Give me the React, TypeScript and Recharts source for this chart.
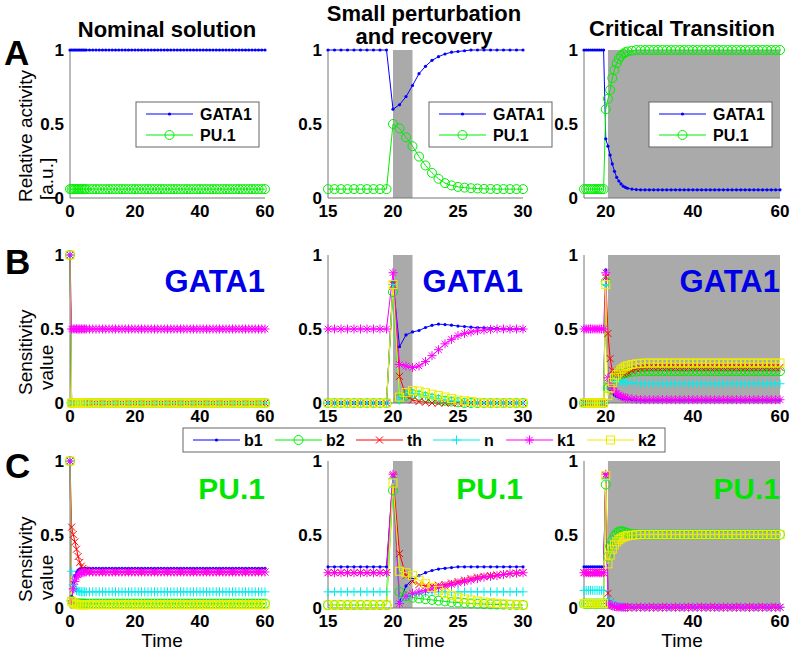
import React from 'react';
import { LineChart, Line, XAxis, YAxis, ReferenceArea } from 'recharts';

const FONT = '"Liberation Sans", Arial, sans-serif';

const BLUE = '#0000ff';
const GREEN = '#00ee00';
const RED = '#ff0000';
const CYAN = '#00eeee';
const MAGENTA = '#ff00ff';
const YELLOW = '#eeee00';
const SHADE = '#aaaaaa';

// time grids (nominal run, perturbation zoom, critical run)
const timeNom = [
  0, 0.5, 1, 1.5, 2, 2.5, 3, 3.5, 4, 4.5, 5,
  6, 7, 8, 9, 10, 11, 12, 13, 14, 15, 16,
  17, 18, 19, 20, 21, 22, 23, 24, 25, 26, 27,
  28, 29, 30, 31, 32, 33, 34, 35, 36, 37, 38,
  39, 40, 41, 42, 43, 44, 45, 46, 47, 48, 49,
  50, 51, 52, 53, 54, 55, 56, 57, 58, 59, 60,
];
const timePert = [
  15, 15.5, 16, 16.5, 17, 17.5, 18, 18.5, 19, 19.5,
  20, 20.5, 21, 21.5, 22, 22.5, 23, 23.5, 24, 24.5, 25,
  25.5, 26, 26.5, 27, 27.5, 28, 28.5, 29, 29.5, 30,
];
const timeCrit = [
  15, 15.5, 16, 16.5, 17, 17.5, 18, 18.5, 19, 19.5,
  20, 20.5, 21, 21.5, 22, 22.5, 23, 23.5, 24, 24.5, 25,
  26, 27, 28, 29, 30, 31, 32, 33, 34, 35, 36, 37,
  38, 39, 40, 41, 42, 43, 44, 45, 46, 47, 48, 49,
  50, 51, 52, 53, 54, 55, 56, 57, 58, 59, 60,
];

// ---- row A: relative activity ----
const nomGata1 = [
  1, 1, 1, 1, 1, 1, 1, 1, 1, 1, 1,
  1, 1, 1, 1, 1, 1, 1, 1, 1, 1, 1,
  1, 1, 1, 1, 1, 1, 1, 1, 1, 1, 1,
  1, 1, 1, 1, 1, 1, 1, 1, 1, 1, 1,
  1, 1, 1, 1, 1, 1, 1, 1, 1, 1, 1,
  1, 1, 1, 1, 1, 1, 1, 1, 1, 1, 1,
];
const nomPu1 = [
  0.06, 0.06, 0.06, 0.06, 0.06, 0.06, 0.06, 0.06, 0.06, 0.06, 0.06,
  0.06, 0.06, 0.06, 0.06, 0.06, 0.06, 0.06, 0.06, 0.06, 0.06, 0.06,
  0.06, 0.06, 0.06, 0.06, 0.06, 0.06, 0.06, 0.06, 0.06, 0.06, 0.06,
  0.06, 0.06, 0.06, 0.06, 0.06, 0.06, 0.06, 0.06, 0.06, 0.06, 0.06,
  0.06, 0.06, 0.06, 0.06, 0.06, 0.06, 0.06, 0.06, 0.06, 0.06, 0.06,
  0.06, 0.06, 0.06, 0.06, 0.06, 0.06, 0.06, 0.06, 0.06, 0.06, 0.06,
];
const pertGata1 = [
  1, 1, 1, 1, 1, 1, 1, 1, 1, 1,
  0.6, 0.63, 0.685, 0.76, 0.84, 0.89, 0.93, 0.955, 0.973, 0.985, 0.99,
  0.995, 1, 1, 1, 1, 1, 1, 1, 1, 1,
];
const pertPu1 = [
  0.06, 0.06, 0.06, 0.06, 0.06, 0.06, 0.06, 0.06, 0.06, 0.06,
  0.5, 0.47, 0.41, 0.35, 0.28, 0.22, 0.17, 0.13, 0.1, 0.085, 0.075,
  0.07, 0.066, 0.064, 0.062, 0.061, 0.06, 0.06, 0.06, 0.06, 0.06,
];
const critGata1 = [
  1, 1, 1, 1, 1, 1, 1, 1, 1, 1,
  0.4, 0.35, 0.29, 0.23, 0.18, 0.14, 0.115, 0.095, 0.08, 0.072, 0.066,
  0.06, 0.057, 0.055, 0.055, 0.055, 0.055, 0.055, 0.055, 0.055, 0.055, 0.055, 0.055,
  0.055, 0.055, 0.055, 0.055, 0.055, 0.055, 0.055, 0.055, 0.055, 0.055, 0.055, 0.055,
  0.055, 0.055, 0.055, 0.055, 0.055, 0.055, 0.055, 0.055, 0.055, 0.055, 0.055,
];
const critPu1 = [
  0.06, 0.06, 0.06, 0.06, 0.06, 0.06, 0.06, 0.06, 0.06, 0.06,
  0.6, 0.67, 0.73, 0.81, 0.865, 0.91, 0.94, 0.96, 0.975, 0.985, 0.99,
  0.995, 1, 1, 1, 1, 1, 1, 1, 1, 1, 1, 1,
  1, 1, 1, 1, 1, 1, 1, 1, 1, 1, 1, 1,
  1, 1, 1, 1, 1, 1, 1, 1, 1, 1, 1,
];

// ---- row B: sensitivities of GATA1 ----
const zeroNom = [
  1, 0, 0, 0, 0, 0, 0, 0, 0, 0, 0,
  0, 0, 0, 0, 0, 0, 0, 0, 0, 0, 0,
  0, 0, 0, 0, 0, 0, 0, 0, 0, 0, 0,
  0, 0, 0, 0, 0, 0, 0, 0, 0, 0, 0,
  0, 0, 0, 0, 0, 0, 0, 0, 0, 0, 0,
  0, 0, 0, 0, 0, 0, 0, 0, 0, 0, 0,
];
const gNomB1 = zeroNom;
const gNomB2 = zeroNom;
const gNomTh = zeroNom;
const gNomN = zeroNom;
const gNomK2 = zeroNom;
const gNomK1 = [
  1, 0.5, 0.5, 0.5, 0.5, 0.5, 0.5, 0.5, 0.5, 0.5, 0.5,
  0.5, 0.5, 0.5, 0.5, 0.5, 0.5, 0.5, 0.5, 0.5, 0.5, 0.5,
  0.5, 0.5, 0.5, 0.5, 0.5, 0.5, 0.5, 0.5, 0.5, 0.5, 0.5,
  0.5, 0.5, 0.5, 0.5, 0.5, 0.5, 0.5, 0.5, 0.5, 0.5, 0.5,
  0.5, 0.5, 0.5, 0.5, 0.5, 0.5, 0.5, 0.5, 0.5, 0.5, 0.5,
  0.5, 0.5, 0.5, 0.5, 0.5, 0.5, 0.5, 0.5, 0.5, 0.5, 0.5,
];

const gPertB1 = [
  0, 0, 0, 0, 0, 0, 0, 0, 0, 0,
  0.82, 0.38, 0.46, 0.48, 0.49, 0.51, 0.525, 0.533, 0.53, 0.526, 0.52,
  0.517, 0.512, 0.51, 0.508, 0.505, 0.503, 0.5, 0.5, 0.5, 0.5,
];
const gPertB2 = [
  0, 0, 0, 0, 0, 0, 0, 0, 0, 0,
  0.75, 0.03, 0.05, 0.06, 0.05, 0.04, 0.03, 0.02, 0.015, 0.01, 0.005,
  0, 0, 0, 0, 0, 0, 0, 0, 0, 0,
];
const gPertTh = [
  0, 0, 0, 0, 0, 0, 0, 0, 0, 0,
  0.8, 0.18, 0.05, 0.02, 0.01, 0.005, 0, 0, 0, 0, 0,
  0, 0, 0, 0, 0, 0, 0, 0, 0, 0,
];
const gPertN = [
  0, 0, 0, 0, 0, 0, 0, 0, 0, 0,
  0.8, 0.02, 0.06, 0.065, 0.06, 0.05, 0.04, 0.03, 0.02, 0.015, 0.01,
  0.005, 0, 0, 0, 0, 0, 0, 0, 0, 0,
];
const gPertK1 = [
  0.5, 0.5, 0.5, 0.5, 0.5, 0.5, 0.5, 0.5, 0.5, 0.5,
  0.88, 0.26, 0.25, 0.24, 0.25, 0.28, 0.32, 0.36, 0.4, 0.43, 0.455,
  0.47, 0.48, 0.488, 0.493, 0.497, 0.5, 0.5, 0.5, 0.5, 0.5,
];
const gPertK2 = [
  0, 0, 0, 0, 0, 0, 0, 0, 0, 0,
  0.8, 0.04, 0.07, 0.085, 0.08, 0.07, 0.06, 0.05, 0.04, 0.03, 0.02,
  0.015, 0.01, 0.005, 0, 0, 0, 0, 0, 0, 0,
];

const gCritB1 = [
  0, 0, 0, 0, 0, 0, 0, 0, 0, 0,
  0.9, 0.1, 0.08, 0.065, 0.055, 0.045, 0.04, 0.035, 0.03, 0.028, 0.026,
  0.023, 0.021, 0.02, 0.02, 0.02, 0.02, 0.02, 0.02, 0.02, 0.02, 0.02, 0.02,
  0.02, 0.02, 0.02, 0.02, 0.02, 0.02, 0.02, 0.02, 0.02, 0.02, 0.02, 0.02,
  0.02, 0.02, 0.02, 0.02, 0.02, 0.02, 0.02, 0.02, 0.02, 0.02, 0.02,
];
const gCritB2 = [
  0, 0, 0, 0, 0, 0, 0, 0, 0, 0,
  0.82, 0.1, 0.13, 0.15, 0.165, 0.175, 0.185, 0.192, 0.198, 0.202, 0.205,
  0.21, 0.213, 0.215, 0.215, 0.215, 0.215, 0.215, 0.215, 0.215, 0.215, 0.215, 0.215,
  0.215, 0.215, 0.215, 0.215, 0.215, 0.215, 0.215, 0.215, 0.215, 0.215, 0.215, 0.215,
  0.215, 0.215, 0.215, 0.215, 0.215, 0.215, 0.215, 0.215, 0.215, 0.215, 0.215,
];
const gCritTh = [
  0, 0, 0, 0, 0, 0, 0, 0, 0, 0,
  0.85, 0.47, 0.3, 0.22, 0.19, 0.185, 0.19, 0.195, 0.2, 0.205, 0.21,
  0.22, 0.23, 0.235, 0.24, 0.24, 0.24, 0.24, 0.24, 0.24, 0.24, 0.24, 0.24,
  0.24, 0.24, 0.24, 0.24, 0.24, 0.24, 0.24, 0.24, 0.24, 0.24, 0.24, 0.24,
  0.24, 0.24, 0.24, 0.24, 0.24, 0.24, 0.24, 0.24, 0.24, 0.24, 0.24,
];
const gCritN = [
  0, 0, 0, 0, 0, 0, 0, 0, 0, 0,
  0.8, 0.1, 0.13, 0.145, 0.15, 0.15, 0.148, 0.145, 0.142, 0.14, 0.138,
  0.135, 0.132, 0.13, 0.13, 0.13, 0.13, 0.13, 0.13, 0.13, 0.13, 0.13, 0.13,
  0.13, 0.13, 0.13, 0.13, 0.13, 0.13, 0.13, 0.13, 0.13, 0.13, 0.13, 0.13,
  0.13, 0.13, 0.13, 0.13, 0.13, 0.13, 0.13, 0.13, 0.13, 0.13, 0.13,
];
const gCritK1 = [
  0.5, 0.5, 0.5, 0.5, 0.5, 0.5, 0.5, 0.5, 0.5, 0.5,
  0.88, 0.17, 0.13, 0.1, 0.08, 0.065, 0.055, 0.045, 0.04, 0.035, 0.032,
  0.028, 0.025, 0.023, 0.022, 0.022, 0.022, 0.022, 0.022, 0.022, 0.022, 0.022, 0.022,
  0.022, 0.022, 0.022, 0.022, 0.022, 0.022, 0.022, 0.022, 0.022, 0.022, 0.022, 0.022,
  0.022, 0.022, 0.022, 0.022, 0.022, 0.022, 0.022, 0.022, 0.022, 0.022, 0.022,
];
const gCritK2 = [
  0, 0, 0, 0, 0, 0, 0, 0, 0, 0,
  0.8, 0.05, 0.1, 0.14, 0.17, 0.19, 0.21, 0.225, 0.235, 0.245, 0.252,
  0.26, 0.265, 0.268, 0.27, 0.27, 0.27, 0.27, 0.27, 0.27, 0.27, 0.27, 0.27,
  0.27, 0.27, 0.27, 0.27, 0.27, 0.27, 0.27, 0.27, 0.27, 0.27, 0.27, 0.27,
  0.27, 0.27, 0.27, 0.27, 0.27, 0.27, 0.27, 0.27, 0.27, 0.27, 0.27,
];

// ---- row C: sensitivities of PU.1 ----
const pNomB1 = [
  1, 0.08, 0.17, 0.22, 0.245, 0.258, 0.265, 0.268, 0.27, 0.27, 0.27,
  0.27, 0.27, 0.27, 0.27, 0.27, 0.27, 0.27, 0.27, 0.27, 0.27, 0.27,
  0.27, 0.27, 0.27, 0.27, 0.27, 0.27, 0.27, 0.27, 0.27, 0.27, 0.27,
  0.27, 0.27, 0.27, 0.27, 0.27, 0.27, 0.27, 0.27, 0.27, 0.27, 0.27,
  0.27, 0.27, 0.27, 0.27, 0.27, 0.27, 0.27, 0.27, 0.27, 0.27, 0.27,
  0.27, 0.27, 0.27, 0.27, 0.27, 0.27, 0.27, 0.27, 0.27, 0.27, 0.27,
];
const pNomB2 = [
  1, 0.05, 0.04, 0.035, 0.032, 0.03, 0.03, 0.03, 0.03, 0.03, 0.03,
  0.03, 0.03, 0.03, 0.03, 0.03, 0.03, 0.03, 0.03, 0.03, 0.03, 0.03,
  0.03, 0.03, 0.03, 0.03, 0.03, 0.03, 0.03, 0.03, 0.03, 0.03, 0.03,
  0.03, 0.03, 0.03, 0.03, 0.03, 0.03, 0.03, 0.03, 0.03, 0.03, 0.03,
  0.03, 0.03, 0.03, 0.03, 0.03, 0.03, 0.03, 0.03, 0.03, 0.03, 0.03,
  0.03, 0.03, 0.03, 0.03, 0.03, 0.03, 0.03, 0.03, 0.03, 0.03, 0.03,
];
const pNomTh = [
  1, 0.55, 0.5, 0.45, 0.4, 0.35, 0.31, 0.285, 0.27, 0.26, 0.252,
  0.245, 0.245, 0.245, 0.245, 0.245, 0.245, 0.245, 0.245, 0.245, 0.245, 0.245,
  0.245, 0.245, 0.245, 0.245, 0.245, 0.245, 0.245, 0.245, 0.245, 0.245, 0.245,
  0.245, 0.245, 0.245, 0.245, 0.245, 0.245, 0.245, 0.245, 0.245, 0.245, 0.245,
  0.245, 0.245, 0.245, 0.245, 0.245, 0.245, 0.245, 0.245, 0.245, 0.245, 0.245,
  0.245, 0.245, 0.245, 0.245, 0.245, 0.245, 0.245, 0.245, 0.245, 0.245, 0.245,
];
const pNomN = [
  1, 0.25, 0.16, 0.13, 0.12, 0.115, 0.112, 0.11, 0.11, 0.11, 0.11,
  0.11, 0.11, 0.11, 0.11, 0.11, 0.11, 0.11, 0.11, 0.11, 0.11, 0.11,
  0.11, 0.11, 0.11, 0.11, 0.11, 0.11, 0.11, 0.11, 0.11, 0.11, 0.11,
  0.11, 0.11, 0.11, 0.11, 0.11, 0.11, 0.11, 0.11, 0.11, 0.11, 0.11,
  0.11, 0.11, 0.11, 0.11, 0.11, 0.11, 0.11, 0.11, 0.11, 0.11, 0.11,
  0.11, 0.11, 0.11, 0.11, 0.11, 0.11, 0.11, 0.11, 0.11, 0.11, 0.11,
];
const pNomK1 = [
  1, 0.05, 0.13, 0.18, 0.21, 0.225, 0.235, 0.24, 0.243, 0.245, 0.245,
  0.245, 0.245, 0.245, 0.245, 0.245, 0.245, 0.245, 0.245, 0.245, 0.245, 0.245,
  0.245, 0.245, 0.245, 0.245, 0.245, 0.245, 0.245, 0.245, 0.245, 0.245, 0.245,
  0.245, 0.245, 0.245, 0.245, 0.245, 0.245, 0.245, 0.245, 0.245, 0.245, 0.245,
  0.245, 0.245, 0.245, 0.245, 0.245, 0.245, 0.245, 0.245, 0.245, 0.245, 0.245,
  0.245, 0.245, 0.245, 0.245, 0.245, 0.245, 0.245, 0.245, 0.245, 0.245, 0.245,
];
const pNomK2 = [
  1, 0.045, 0.035, 0.028, 0.025, 0.023, 0.022, 0.022, 0.022, 0.022, 0.022,
  0.022, 0.022, 0.022, 0.022, 0.022, 0.022, 0.022, 0.022, 0.022, 0.022, 0.022,
  0.022, 0.022, 0.022, 0.022, 0.022, 0.022, 0.022, 0.022, 0.022, 0.022, 0.022,
  0.022, 0.022, 0.022, 0.022, 0.022, 0.022, 0.022, 0.022, 0.022, 0.022, 0.022,
  0.022, 0.022, 0.022, 0.022, 0.022, 0.022, 0.022, 0.022, 0.022, 0.022, 0.022,
  0.022, 0.022, 0.022, 0.022, 0.022, 0.022, 0.022, 0.022, 0.022, 0.022, 0.022,
];

const pPertB1 = [
  0.28, 0.28, 0.28, 0.28, 0.28, 0.28, 0.28, 0.28, 0.28, 0.28,
  0.9, 0.04, 0.15, 0.195, 0.22, 0.24, 0.255, 0.265, 0.27, 0.275, 0.28,
  0.28, 0.28, 0.28, 0.28, 0.28, 0.28, 0.28, 0.28, 0.28, 0.28,
];
const pPertB2 = [
  0.02, 0.02, 0.02, 0.02, 0.02, 0.02, 0.02, 0.02, 0.02, 0.02,
  0.8, 0.11, 0.08, 0.07, 0.065, 0.06, 0.055, 0.05, 0.045, 0.04, 0.037,
  0.034, 0.031, 0.029, 0.027, 0.025, 0.024, 0.023, 0.022, 0.021, 0.02,
];
const pPertTh = [
  0.24, 0.24, 0.24, 0.24, 0.24, 0.24, 0.24, 0.24, 0.24, 0.24,
  0.9, 0.37, 0.22, 0.18, 0.16, 0.15, 0.15, 0.155, 0.16, 0.17, 0.18,
  0.19, 0.2, 0.21, 0.215, 0.22, 0.225, 0.23, 0.235, 0.238, 0.24,
];
const pPertN = [
  0.11, 0.11, 0.11, 0.11, 0.11, 0.11, 0.11, 0.11, 0.11, 0.11,
  0.88, 0.04, 0.07, 0.09, 0.1, 0.105, 0.11, 0.11, 0.11, 0.11, 0.11,
  0.11, 0.11, 0.11, 0.11, 0.11, 0.11, 0.11, 0.11, 0.11, 0.11,
];
const pPertK1 = [
  0.24, 0.24, 0.24, 0.24, 0.24, 0.24, 0.24, 0.24, 0.24, 0.24,
  0.91, 0.03, 0.08, 0.1, 0.11, 0.12, 0.13, 0.14, 0.15, 0.16, 0.17,
  0.18, 0.19, 0.2, 0.21, 0.215, 0.22, 0.228, 0.233, 0.237, 0.24,
];
const pPertK2 = [
  0.02, 0.02, 0.02, 0.02, 0.02, 0.02, 0.02, 0.02, 0.02, 0.02,
  0.85, 0.25, 0.24, 0.22, 0.19, 0.165, 0.14, 0.12, 0.1, 0.085, 0.072,
  0.062, 0.054, 0.047, 0.041, 0.036, 0.032, 0.028, 0.025, 0.022, 0.02,
];

const pCritB1 = [
  0.28, 0.28, 0.28, 0.28, 0.28, 0.28, 0.28, 0.28, 0.28, 0.28,
  0.91, 0.05, 0.03, 0.02, 0.015, 0.01, 0.008, 0.006, 0.005, 0.005, 0.005,
  0.005, 0.005, 0.005, 0.005, 0.005, 0.005, 0.005, 0.005, 0.005, 0.005, 0.005, 0.005,
  0.005, 0.005, 0.005, 0.005, 0.005, 0.005, 0.005, 0.005, 0.005, 0.005, 0.005, 0.005,
  0.005, 0.005, 0.005, 0.005, 0.005, 0.005, 0.005, 0.005, 0.005, 0.005, 0.005,
];
const pCritB2 = [
  0.03, 0.03, 0.03, 0.03, 0.03, 0.03, 0.03, 0.03, 0.03, 0.03,
  0.84, 0.35, 0.42, 0.46, 0.49, 0.51, 0.52, 0.522, 0.52, 0.515, 0.51,
  0.505, 0.502, 0.5, 0.5, 0.5, 0.5, 0.5, 0.5, 0.5, 0.5, 0.5, 0.5,
  0.5, 0.5, 0.5, 0.5, 0.5, 0.5, 0.5, 0.5, 0.5, 0.5, 0.5, 0.5,
  0.5, 0.5, 0.5, 0.5, 0.5, 0.5, 0.5, 0.5, 0.5, 0.5, 0.5,
];
const pCritTh = [
  0.24, 0.24, 0.24, 0.24, 0.24, 0.24, 0.24, 0.24, 0.24, 0.24,
  0.9, 0.1, 0.04, 0.02, 0.012, 0.008, 0.006, 0.005, 0.005, 0.005, 0.005,
  0.005, 0.005, 0.005, 0.005, 0.005, 0.005, 0.005, 0.005, 0.005, 0.005, 0.005, 0.005,
  0.005, 0.005, 0.005, 0.005, 0.005, 0.005, 0.005, 0.005, 0.005, 0.005, 0.005, 0.005,
  0.005, 0.005, 0.005, 0.005, 0.005, 0.005, 0.005, 0.005, 0.005, 0.005, 0.005,
];
const pCritN = [
  0.12, 0.12, 0.12, 0.12, 0.12, 0.12, 0.12, 0.12, 0.12, 0.12,
  0.88, 0.06, 0.04, 0.03, 0.022, 0.016, 0.012, 0.009, 0.007, 0.006, 0.005,
  0.005, 0.005, 0.005, 0.005, 0.005, 0.005, 0.005, 0.005, 0.005, 0.005, 0.005, 0.005,
  0.005, 0.005, 0.005, 0.005, 0.005, 0.005, 0.005, 0.005, 0.005, 0.005, 0.005, 0.005,
  0.005, 0.005, 0.005, 0.005, 0.005, 0.005, 0.005, 0.005, 0.005, 0.005, 0.005,
];
const pCritK1 = [
  0.24, 0.24, 0.24, 0.24, 0.24, 0.24, 0.24, 0.24, 0.24, 0.24,
  0.91, 0.03, 0.02, 0.015, 0.01, 0.008, 0.006, 0.005, 0.005, 0.005, 0.005,
  0.005, 0.005, 0.005, 0.005, 0.005, 0.005, 0.005, 0.005, 0.005, 0.005, 0.005, 0.005,
  0.005, 0.005, 0.005, 0.005, 0.005, 0.005, 0.005, 0.005, 0.005, 0.005, 0.005, 0.005,
  0.005, 0.005, 0.005, 0.005, 0.005, 0.005, 0.005, 0.005, 0.005, 0.005, 0.005,
];
const pCritK2 = [
  0.03, 0.03, 0.03, 0.03, 0.03, 0.03, 0.03, 0.03, 0.03, 0.03,
  0.9, 0.3, 0.36, 0.4, 0.43, 0.45, 0.465, 0.475, 0.483, 0.488, 0.492,
  0.495, 0.498, 0.5, 0.5, 0.5, 0.5, 0.5, 0.5, 0.5, 0.5, 0.5, 0.5,
  0.5, 0.5, 0.5, 0.5, 0.5, 0.5, 0.5, 0.5, 0.5, 0.5, 0.5, 0.5,
  0.5, 0.5, 0.5, 0.5, 0.5, 0.5, 0.5, 0.5, 0.5, 0.5, 0.5,
];

const yTicks = [0, 0.5, 1];
const ticksNom = [0, 20, 40, 60];
const ticksPert = [15, 20, 25, 30];
const ticksCrit = [20, 40, 60];

type Shape = 'dot' | 'circle' | 'x' | 'plus' | 'star' | 'square';
interface SeriesDef { key: string; label: string; color: string; shape: Shape }

const activitySeries: SeriesDef[] = [
  { key: 'gata1', label: 'GATA1', color: BLUE, shape: 'dot' },
  { key: 'pu1', label: 'PU.1', color: GREEN, shape: 'circle' },
];
const sensSeries: SeriesDef[] = [
  { key: 'b1', label: 'b1', color: BLUE, shape: 'dot' },
  { key: 'b2', label: 'b2', color: GREEN, shape: 'circle' },
  { key: 'th', label: 'th', color: RED, shape: 'x' },
  { key: 'n', label: 'n', color: CYAN, shape: 'plus' },
  { key: 'k1', label: 'k1', color: MAGENTA, shape: 'star' },
  { key: 'k2', label: 'k2', color: YELLOW, shape: 'square' },
];

function table(t: number[], cols: Record<string, number[]>) {
  return t.map((tv, i) => {
    const row: Record<string, number> = { t: tv };
    Object.keys(cols).forEach((k) => { row[k] = cols[k][i]; });
    return row;
  });
}

const Marker = ({ shape, color, x, y }: { shape: Shape; color: string; x: number; y: number }) => {
  switch (shape) {
    case 'dot':
      return <circle cx={x} cy={y} r={1.6} fill={color} />;
    case 'circle':
      return <circle cx={x} cy={y} r={4.5} fill="none" stroke={color} strokeWidth={1} />;
    case 'x':
      return <path d={`M${x - 3.5},${y - 3.5}L${x + 3.5},${y + 3.5}M${x - 3.5},${y + 3.5}L${x + 3.5},${y - 3.5}`} stroke={color} strokeWidth={1} />;
    case 'plus':
      return <path d={`M${x - 4.5},${y}H${x + 4.5}M${x},${y - 4.5}V${y + 4.5}`} stroke={color} strokeWidth={1} />;
    case 'star':
      return <path d={`M${x - 4.5},${y}H${x + 4.5}M${x},${y - 4.5}V${y + 4.5}M${x - 3.2},${y - 3.2}L${x + 3.2},${y + 3.2}M${x - 3.2},${y + 3.2}L${x + 3.2},${y - 3.2}`} stroke={color} strokeWidth={1} />;
    default:
      return <rect x={x - 4} y={y - 4} width={8} height={8} fill="none" stroke={color} strokeWidth={1} />;
  }
};

const makeDot = (shape: Shape, color: string) => (p: any) => {
  if (p.cx == null || p.cy == null) return <g key={p.index} />;
  return <g key={p.index}><Marker shape={shape} color={color} x={p.cx} y={p.cy} /></g>;
};

const ML = 45, MT = 10, MR = 15, MB = 30;
const tickFont = { fill: '#000', fontSize: 17, fontWeight: 'bold' as const, fontFamily: FONT };

interface PanelProps {
  x: number; y: number; w: number; h: number;
  data: Record<string, number>[];
  series: SeriesDef[];
  domain: [number, number];
  ticks: number[];
  shade?: [number, number];
}

const Panel = ({ x, y, w, h, data, series, domain, ticks, shade }: PanelProps) => (
  <div style={{ position: 'absolute', left: x - ML, top: y - MT }}>
    <LineChart width={w + ML + MR} height={h + MT + MB} data={data} margin={{ top: MT, right: MR, bottom: 0, left: 0 }}>
      <XAxis dataKey="t" type="number" domain={domain} ticks={ticks} interval={0} height={MB}
        tick={tickFont} tickLine={false} tickSize={4} tickMargin={3} axisLine={{ stroke: '#777' }} />
      <YAxis type="number" domain={[0, 1]} ticks={yTicks} interval={0} width={ML}
        tick={tickFont} tickLine={false} tickSize={4} tickMargin={2} axisLine={{ stroke: '#777' }}
        tickFormatter={(v: number) => String(v)} />
      {shade && (
        <ReferenceArea x1={shade[0]} x2={shade[1]} y1={0} y2={1} fill={SHADE} fillOpacity={1} stroke="none" />
      )}
      {series.map((s) => (
        <Line key={s.key} type="linear" dataKey={s.key} stroke={s.color} strokeWidth={1}
          dot={makeDot(s.shape, s.color)} activeDot={false} isAnimationActive={false} />
      ))}
    </LineChart>
  </div>
);

const cols = [
  { x: 70, w: 195, domain: [0, 60] as [number, number], ticks: ticksNom },
  { x: 328, w: 195, domain: [15, 30] as [number, number], ticks: ticksPert, shade: [20, 21.5] as [number, number] },
  { x: 584, w: 196, domain: [15, 60] as [number, number], ticks: ticksCrit, shade: [20.5, 60] as [number, number] },
];
const rowsY = [
  { y: 50, h: 148 },
  { y: 255, h: 148 },
  { y: 461, h: 147 },
];

const dataA = [
  table(timeNom, { gata1: nomGata1, pu1: nomPu1 }),
  table(timePert, { gata1: pertGata1, pu1: pertPu1 }),
  table(timeCrit, { gata1: critGata1, pu1: critPu1 }),
];
const dataB = [
  table(timeNom, { b1: gNomB1, b2: gNomB2, th: gNomTh, n: gNomN, k1: gNomK1, k2: gNomK2 }),
  table(timePert, { b1: gPertB1, b2: gPertB2, th: gPertTh, n: gPertN, k1: gPertK1, k2: gPertK2 }),
  table(timeCrit, { b1: gCritB1, b2: gCritB2, th: gCritTh, n: gCritN, k1: gCritK1, k2: gCritK2 }),
];
const dataC = [
  table(timeNom, { b1: pNomB1, b2: pNomB2, th: pNomTh, n: pNomN, k1: pNomK1, k2: pNomK2 }),
  table(timePert, { b1: pPertB1, b2: pPertB2, th: pPertTh, n: pPertN, k1: pPertK1, k2: pPertK2 }),
  table(timeCrit, { b1: pCritB1, b2: pCritB2, th: pCritTh, n: pCritN, k1: pCritK1, k2: pCritK2 }),
];

const LegendEntry = ({ x, y, s, textGap }: { x: number; y: number; s: SeriesDef; textGap: number }) => (
  <g>
    <line x1={x} y1={y} x2={x + 47} y2={y} stroke={s.color} strokeWidth={1} />
    <Marker shape={s.shape} color={s.color} x={x + 23.5} y={y} />
    <text x={x + textGap} y={y + 6} fontSize={16} fontWeight="bold" fill="#000">{s.label}</text>
  </g>
);

const App: React.FC = () => {
  const legendA = [136, 429, 649];
  const bottomLegendX = [193, 275, 356, 433, 506, 587];
  return (
    <div style={{ position: 'absolute', left: 0, top: 0, width: 792, height: 654, background: '#fff', overflow: 'hidden', fontFamily: FONT }}>
      {cols.map((c, i) => (
        <Panel key={`a${i}`} x={c.x} y={rowsY[0].y} w={c.w} h={rowsY[0].h} data={dataA[i]} series={activitySeries}
          domain={c.domain} ticks={c.ticks} shade={c.shade} />
      ))}
      {cols.map((c, i) => (
        <Panel key={`b${i}`} x={c.x} y={rowsY[1].y} w={c.w} h={rowsY[1].h} data={dataB[i]} series={sensSeries}
          domain={c.domain} ticks={c.ticks} shade={c.shade} />
      ))}
      {cols.map((c, i) => (
        <Panel key={`c${i}`} x={c.x} y={rowsY[2].y} w={c.w} h={rowsY[2].h} data={dataC[i]} series={sensSeries}
          domain={c.domain} ticks={c.ticks} shade={c.shade} />
      ))}
      <svg width={792} height={654} style={{ position: 'absolute', left: 0, top: 0, pointerEvents: 'none' }} fontFamily={FONT}>
        {/* column titles */}
        <text x={167} y={37} textAnchor="middle" fontSize={22} fontWeight="bold">Nominal solution</text>
        <text x={424} y={21} textAnchor="middle" fontSize={22} fontWeight="bold">Small perturbation</text>
        <text x={424} y={44} textAnchor="middle" fontSize={22} fontWeight="bold">and recovery</text>
        <text x={682} y={36} textAnchor="middle" fontSize={22} fontWeight="bold">Critical Transition</text>

        {/* panel letters */}
        <text x={4} y={65} fontSize={35} fontWeight="bold">A</text>
        <text x={5} y={274} fontSize={35} fontWeight="bold">B</text>
        <text x={5} y={478} fontSize={35} fontWeight="bold">C</text>

        {/* y labels (read bottom to top, so they start at the low end) */}
        <text transform="translate(32,202) rotate(-90)" textAnchor="start" fontSize={19}>Relative activity</text>
        <text transform="translate(53,200) rotate(-90)" textAnchor="start" fontSize={19}>[a.u.]</text>
        <text transform="translate(32,395) rotate(-90)" textAnchor="start" fontSize={19}>Sensitivity</text>
        <text transform="translate(53,390) rotate(-90)" textAnchor="start" fontSize={19}>value</text>
        <text transform="translate(32,602) rotate(-90)" textAnchor="start" fontSize={19}>Sensitivity</text>
        <text transform="translate(53,600) rotate(-90)" textAnchor="start" fontSize={19}>value</text>

        {/* x labels */}
        <text x={162} y={647} textAnchor="middle" fontSize={19}>Time</text>
        <text x={424} y={647} textAnchor="middle" fontSize={19}>Time</text>
        <text x={682} y={647} textAnchor="middle" fontSize={19}>Time</text>

        {/* big variable labels */}
        {cols.map((c, i) => (
          <text key={`g${i}`} x={c.x + c.w} y={292} textAnchor="end" fontSize={31} fontWeight="bold" fill="#0000e6">GATA1</text>
        ))}
        {cols.map((c, i) => (
          <text key={`p${i}`} x={c.x + c.w} y={499} textAnchor="end" fontSize={30} fontWeight="bold" fill="#00e600">PU.1</text>
        ))}

        {/* row A legends */}
        {legendA.map((lx, i) => (
          <g key={`la${i}`}>
            <rect x={lx} y={102} width={123} height={45} fill="#fff" stroke="#666" strokeWidth={1} />
            <LegendEntry x={lx + 10} y={114} s={activitySeries[0]} textGap={54} />
            <LegendEntry x={lx + 10} y={135} s={activitySeries[1]} textGap={54} />
          </g>
        ))}

        {/* shared parameter legend */}
        <rect x={183} y={428} width={482} height={24} fill="#fff" stroke="#666" strokeWidth={1} />
        {sensSeries.map((s, i) => (
          <LegendEntry key={s.key} x={bottomLegendX[i]} y={440} s={s} textGap={51} />
        ))}
      </svg>
    </div>
  );
};

export default App;
